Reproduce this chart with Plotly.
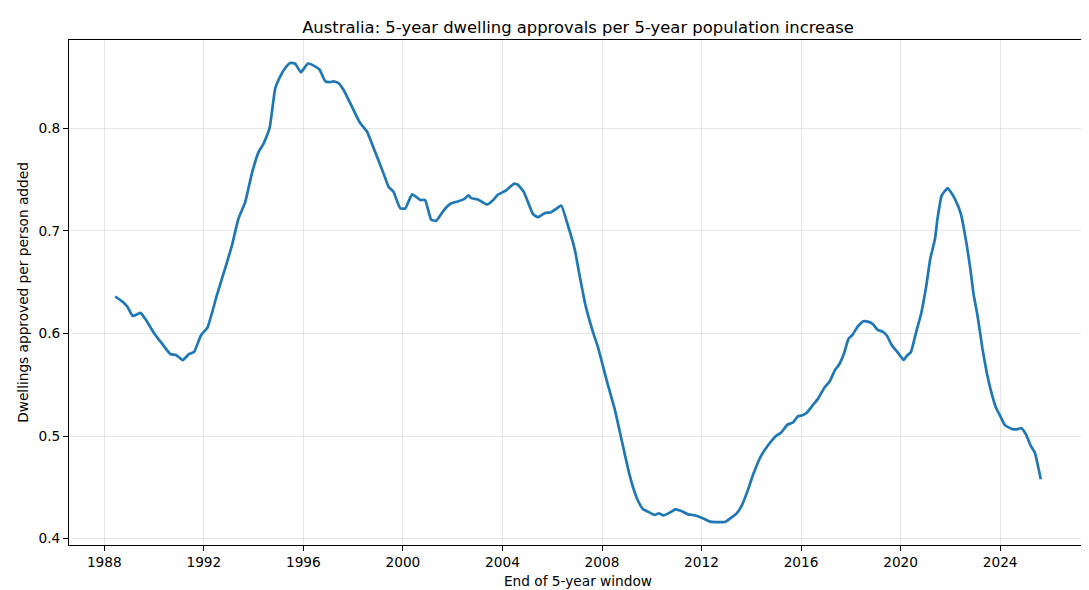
import pandas as pd
import plotly.graph_objects as go

# end of 5-year window, as decimal years
window_end = [
    1988.44, 1988.78, 1988.94, 1989.14, 1989.45, 1989.65, 1989.98, 1990.32, 1990.65, 1990.88,
    1991.15, 1991.41, 1991.61, 1991.88, 1992.15, 1992.52, 1992.93, 1993.13, 1993.39, 1993.66,
    1993.93, 1994.20, 1994.40, 1994.64, 1994.87, 1995.07, 1995.27, 1995.47, 1995.67, 1995.90,
    1996.18, 1996.41, 1996.65, 1996.88, 1997.08, 1997.21, 1997.41, 1997.61, 1997.95, 1998.28,
    1998.55, 1998.88, 1999.22, 1999.42, 1999.62, 1999.89, 2000.09, 2000.37, 2000.70, 2000.89,
    2001.13, 2001.33, 2001.64, 2001.91, 2002.20, 2002.47, 2002.64, 2002.74, 2003.01, 2003.38,
    2003.61, 2003.81, 2004.15, 2004.46, 2004.62, 2004.86, 2005.22, 2005.42, 2005.69, 2005.96,
    2006.16, 2006.36, 2006.63, 2006.90, 2007.10, 2007.34, 2007.64, 2007.84, 2008.21, 2008.51,
    2008.78, 2009.05, 2009.25, 2009.45, 2009.65, 2009.92, 2010.12, 2010.28, 2010.46, 2010.72,
    2010.95, 2011.19, 2011.46, 2011.66, 2012.00, 2012.34, 2012.54, 2012.74, 2012.94, 2013.14,
    2013.41, 2013.61, 2013.87, 2014.08, 2014.39, 2014.66, 2015.00, 2015.20, 2015.44, 2015.67,
    2015.87, 2016.07, 2016.24, 2016.47, 2016.67, 2016.94, 2017.14, 2017.36, 2017.54, 2017.74,
    2017.90, 2018.07, 2018.27, 2018.50, 2018.68, 2018.88, 2019.08, 2019.28, 2019.45, 2019.64,
    2019.88, 2020.12, 2020.25, 2020.41, 2020.62, 2020.82, 2021.02, 2021.19, 2021.38, 2021.48,
    2021.65, 2021.89, 2022.02, 2022.18, 2022.42, 2022.66, 2022.80, 2022.93, 2023.09, 2023.29,
    2023.46, 2023.63, 2023.83, 2024.00, 2024.19, 2024.49, 2024.70, 2024.86, 2025.03, 2025.23,
    2025.39, 2025.63,
]

# dwellings approved per person added over the window
ratio = [
    0.636, 0.630, 0.6255, 0.617, 0.620, 0.614, 0.601, 0.590, 0.580, 0.579,
    0.574, 0.580, 0.582, 0.598, 0.606, 0.637, 0.6695, 0.686, 0.712, 0.728,
    0.756, 0.777, 0.785, 0.800, 0.839, 0.8506, 0.8587, 0.8636, 0.863, 0.8545,
    0.863, 0.861, 0.857, 0.8457, 0.845, 0.8457, 0.844, 0.8375, 0.821, 0.805,
    0.797, 0.777, 0.756, 0.743, 0.738, 0.722, 0.7217, 0.7355, 0.730, 0.730,
    0.711, 0.7098, 0.720, 0.7264, 0.7286, 0.7312, 0.7345, 0.7319, 0.7306, 0.7257,
    0.7296, 0.7351, 0.7394, 0.7459, 0.7449, 0.7377, 0.7166, 0.7133, 0.7172, 0.7182,
    0.7215, 0.7247, 0.7052, 0.6824, 0.6564, 0.6271, 0.6011, 0.5864, 0.5523, 0.5262,
    0.4969, 0.4677, 0.4498, 0.4367, 0.4286, 0.4254, 0.4231, 0.4247, 0.4227, 0.4254,
    0.4286, 0.4270, 0.4237, 0.4231, 0.4205, 0.4166, 0.4162, 0.4162, 0.4162, 0.4195,
    0.4247, 0.4319, 0.448, 0.463, 0.4807, 0.4905, 0.5002, 0.5034, 0.5109, 0.5132,
    0.5191, 0.5204, 0.523, 0.5301, 0.536, 0.5474, 0.5529, 0.5643, 0.5702, 0.5816,
    0.5946, 0.5988, 0.6066, 0.6118, 0.6115, 0.6092, 0.6034, 0.6017, 0.5978, 0.5887,
    0.5816, 0.5741, 0.5783, 0.5816, 0.6011, 0.619, 0.645, 0.6727, 0.6922, 0.7117,
    0.7345, 0.7417, 0.7377, 0.7312, 0.7166, 0.6857, 0.6629, 0.6385, 0.6173, 0.5848,
    0.562, 0.5441, 0.5279, 0.5197, 0.5106, 0.5067, 0.5067, 0.5077, 0.5018, 0.4904,
    0.4839, 0.4579,
]

TITLE = "Australia: 5-year dwelling approvals per 5-year population increase"
X_LABEL = "End of 5-year window"
Y_LABEL = "Dwellings approved per person added"

FONT = "DejaVu Sans"
GRID = "rgba(176,176,176,0.3)"


def to_date(y):
    start = pd.Timestamp(year=int(y), month=1, day=1)
    end = pd.Timestamp(year=int(y) + 1, month=1, day=1)
    return start + (end - start) * (y - int(y))


dates = [to_date(y) for y in window_end]

# matplotlib-style 5% margins around the data
xpad = 0.05 * (max(window_end) - min(window_end))
ypad = 0.05 * (max(ratio) - min(ratio))
x_range = [to_date(min(window_end) - xpad), to_date(max(window_end) + xpad)]
y_range = [min(ratio) - ypad, max(ratio) + ypad]

fig = go.Figure()
fig.add_trace(
    go.Scatter(
        x=dates,
        y=ratio,
        mode="lines",
        line=dict(color="#1f77b4", width=2.7, shape="spline", smoothing=0.4),
        showlegend=False,
    )
)

axis_style = dict(
    showline=True,
    linecolor="black",
    linewidth=1,
    mirror=True,
    ticks="outside",
    ticklen=5,
    tickwidth=1,
    tickcolor="black",
    tickfont=dict(family=FONT, size=13.7, color="black"),
    showgrid=True,
    gridcolor=GRID,
    gridwidth=1,
    zeroline=False,
    automargin=False,
)

fig.update_xaxes(
    type="date",
    range=x_range,
    tick0="1988-01-01",
    dtick="M48",
    tickformat="%Y",
    title=dict(text=X_LABEL, standoff=6, font=dict(family=FONT, size=13.7, color="black")),
    **axis_style,
)
fig.update_yaxes(
    range=y_range,
    tick0=0.4,
    dtick=0.1,
    tickformat=".1f",
    title=dict(text=Y_LABEL, standoff=6, font=dict(family=FONT, size=13.7, color="black")),
    **axis_style,
)

fig.update_layout(
    width=1089,
    height=590,
    margin=dict(l=61, r=10, t=32, b=53),
    paper_bgcolor="white",
    plot_bgcolor="white",
    font=dict(family=FONT, size=13.7, color="black"),
    title=dict(
        text=TITLE,
        x=0.5,
        xref="paper",
        xanchor="center",
        y=1 - 19 / 590,
        yref="container",
        yanchor="middle",
        font=dict(family=FONT, size=16.4, color="black"),
    ),
)

fig.write_html("out.html")
